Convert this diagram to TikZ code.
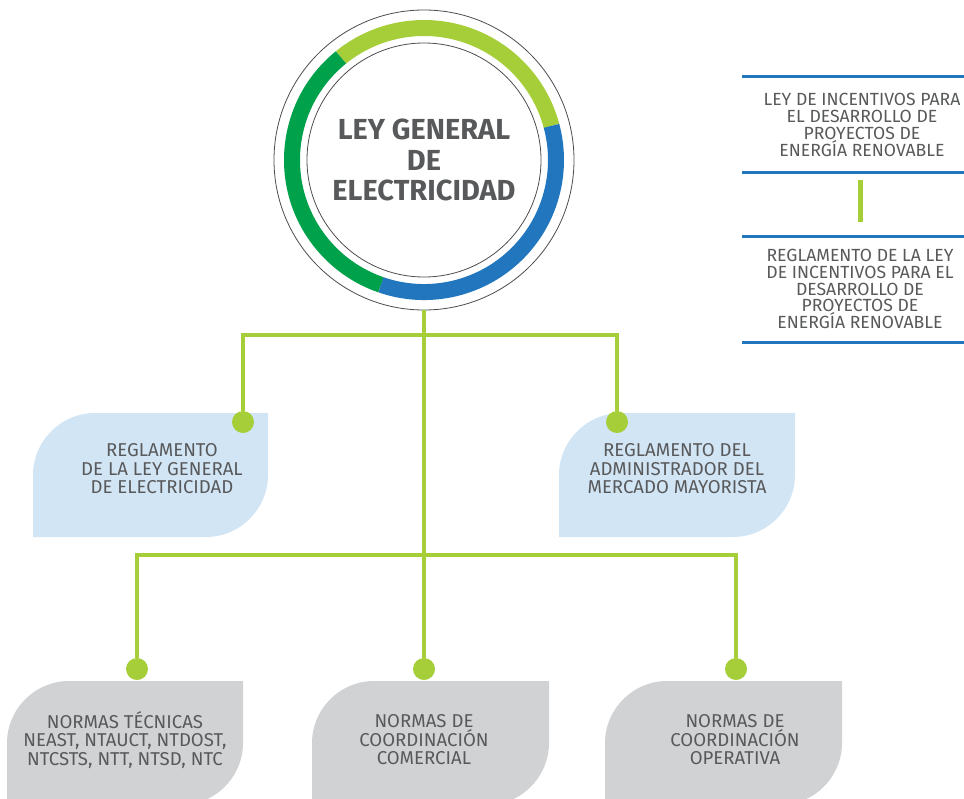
\documentclass[tikz,border=0pt]{standalone}
\usepackage{fontspec}
\setmainfont{Fira Sans}
\usetikzlibrary{calc}
\definecolor{lgreen}{HTML}{A6CE39}
\definecolor{dgreen}{HTML}{00A14B}
\definecolor{lblue}{HTML}{2176BD}
\definecolor{paleblue}{HTML}{D2E5F4}
\definecolor{palegray}{HTML}{D1D2D4}
\definecolor{txtgray}{HTML}{58595B}

% leaf shaped panel: x1, y1, x2, y2, colour
\newcommand\leaf[5]{%
  \fill[#5] (#1,#4) -- (#1,#2+62) .. controls (#1,#2+28) and (#1+28,#2) .. (#1+62,#2)
    -- (#3,#2) -- (#3,#4-62) .. controls (#3,#4-28) and (#3-28,#4) .. (#3-62,#4) -- cycle;}

\begin{document}
\begin{tikzpicture}[x=1pt,y=-1pt,
  every node/.style={text=txtgray,align=center,inner sep=0pt},
  branch/.style={draw=lgreen,line width=4},
  knob/.style={circle,fill=lgreen,minimum size=22},
  box/.style={font=\fontsize{18.6}{18.5}\selectfont},
  sidebox/.style={font=\fontsize{17.6}{16.8}\selectfont},
  bluerule/.style={draw=lblue,line width=3}]
\useasboundingbox (0,0) rectangle (964,798);

\leaf{33}{413}{268}{537}{paleblue}
\leaf{559}{413}{795}{537}{paleblue}
\leaf{7}{681}{243}{805}{palegray}
\leaf{312}{681}{549}{805}{palegray}
\leaf{605}{681}{842}{805}{palegray}

% ring
\node[circle,draw=black!70,line width=0.8,minimum size=300] (lge) at (424,160) {};
\draw[lgreen,line width=16] (lge.center) ++(-15:132) arc (-15:-129:132);
\draw[dgreen,line width=16] (lge.center) ++(-129:132) arc (-129:-251:132);
\draw[lblue,line width=16] (lge.center) ++(-251:132) arc (-251:-375:132);
\node[circle,draw=black!70,line width=0.8,minimum size=234,font=\fontsize{29}{30.5}\selectfont\bfseries] (core) at (lge.center) {LEY GENERAL\\DE\\ELECTRICIDAD};

\coordinate (hub1) at (424,335);
\coordinate (hub2) at (424,555);
\node[knob] (k1) at (243,422) {};
\node[knob] (k2) at (617,422) {};
\node[knob] (k3) at (137,669) {};
\node[knob] (k4) at (424,669) {};
\node[knob] (k5) at (736,669) {};

\draw[branch] (lge.south) -- (k4);
\draw[branch] (k1) |- (hub1) -| (k2);
\draw[branch] (k3) |- (hub2) -| (k5);

\node[box] (rlge) at (162,469) {REGLAMENTO\\DE LA LEY GENERAL\\DE ELECTRICIDAD};
\node[box] (ramm) at (677,469) {REGLAMENTO DEL\\ADMINISTRADOR DEL\\MERCADO MAYORISTA};
\node[box] (nt) at (125,740) {NORMAS TÉCNICAS\\NEAST, NTAUCT, NTDOST,\\NTCSTS, NTT, NTSD, NTC};
\node[box] (ncc) at (424,740) {NORMAS DE\\COORDINACIÓN\\COMERCIAL};
\node[box] (nco) at (735,740) {NORMAS DE\\COORDINACIÓN\\OPERATIVA};

% side panel
\draw[bluerule] (742,76) -- (964,76);
\draw[bluerule] (742,172) -- (964,172);
\draw[bluerule] (742,236) -- (964,236);
\draw[bluerule] (742,342) -- (964,342);
\node[sidebox] (lir) at (862,125) {LEY DE INCENTIVOS PARA\\EL DESARROLLO DE\\PROYECTOS DE\\ENERGÍA RENOVABLE};
\node[sidebox] (rlir) at (860,289) {REGLAMENTO DE LA LEY\\DE INCENTIVOS PARA EL\\DESARROLLO DE\\PROYECTOS DE\\ENERGÍA RENOVABLE};
\coordinate (b1) at (860,180);
\coordinate (b2) at (860,222);
\draw[lgreen,line width=5] (b1) -- (b2);
\end{tikzpicture}
\end{document}
